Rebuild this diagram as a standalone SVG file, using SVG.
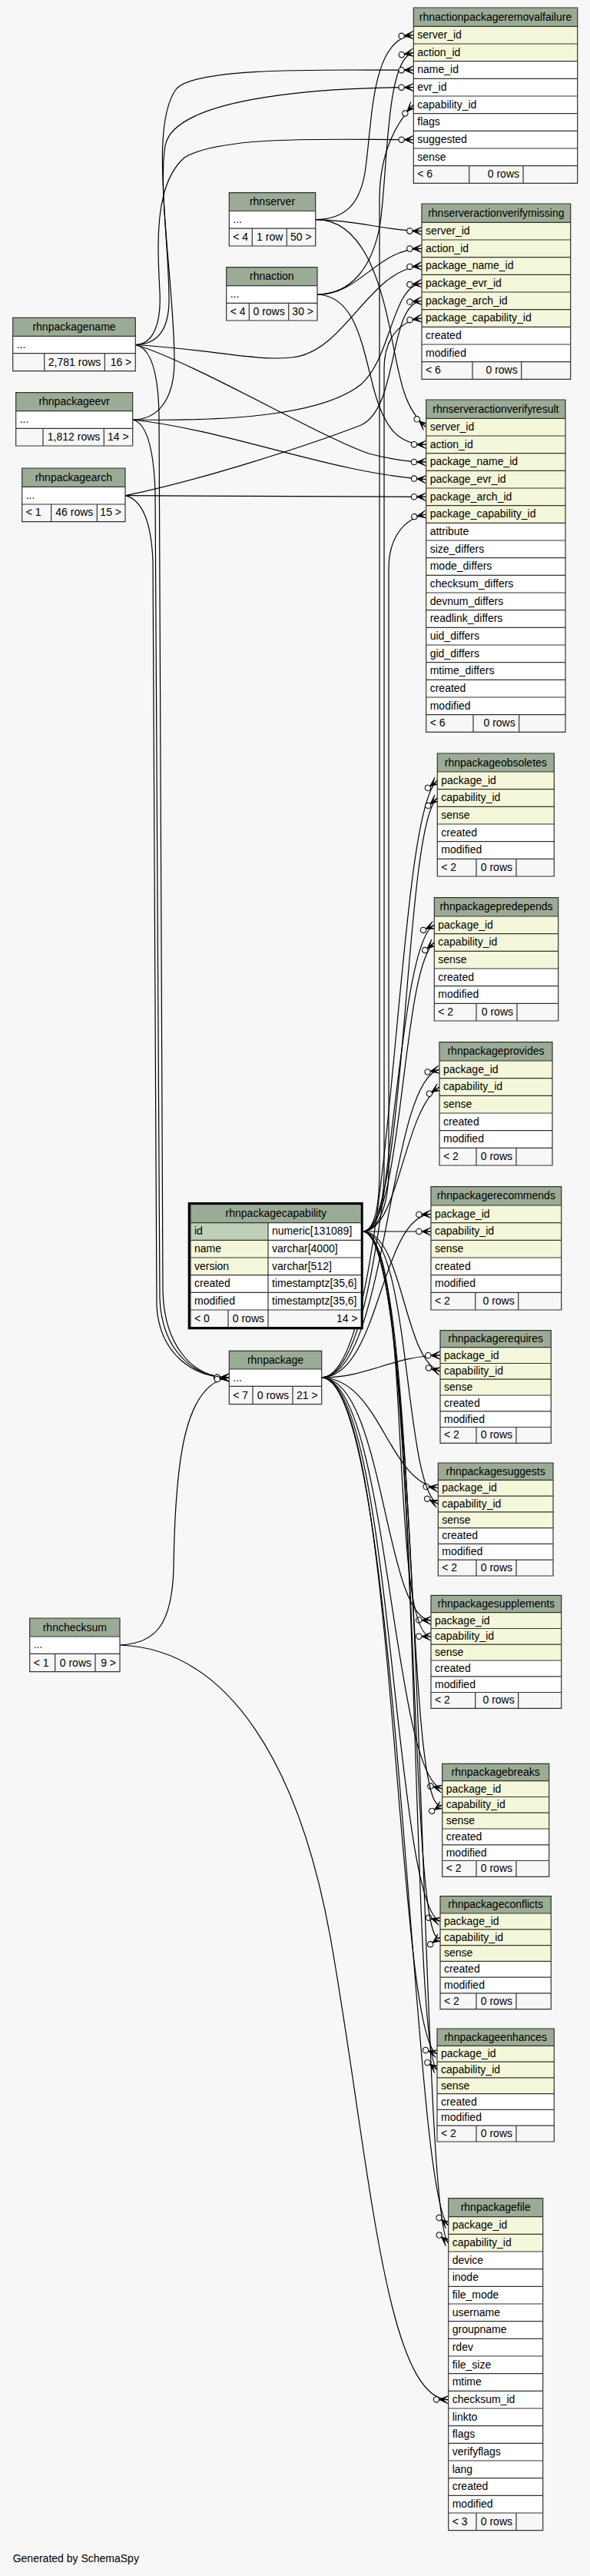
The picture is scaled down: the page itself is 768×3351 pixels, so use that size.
<svg xmlns="http://www.w3.org/2000/svg" width="768" height="3351" viewBox="0 0 768 3351">
<style>
.hd{fill:#9bab96}
.k{fill:#f4f7da}
.w{fill:#ffffff}
.pk{fill:#bed1b8}
.ft{fill:#f7f7f7}
.g{fill:none;stroke:#333;stroke-width:1.2}
text{font-family:"Liberation Sans",Arial,Helvetica,sans-serif;font-size:14px;fill:#000}
.c{text-anchor:middle}
.r{text-anchor:end}
.e{fill:none;stroke:#000;stroke-width:1.2;marker-end:url(#co)}
</style>
<defs>
<marker id="co" viewBox="0 0 20 12" refX="20" refY="6" markerWidth="20" markerHeight="12" markerUnits="userSpaceOnUse" orient="auto" overflow="visible">
<circle cx="4.3" cy="6" r="3.7" fill="#f7f7f7" stroke="#000" stroke-width="1.1"/>
<path d="M8,6H20M8,6L20,0.8M8,6L20,11.2" fill="none" stroke="#000" stroke-width="1"/>
<polygon points="8,6 20,0.8 13.5,6 20,11.2" fill="#000"/>
</marker>
</defs>
<rect x="0" y="0" width="768" height="3351" fill="#f7f7f7"/>

<g id="connectors">
<!-- T1 rhnactionpackageremovalfailure -->
<path class="e" d="M410.7,285.7C450,285 468,265 475,225C485,160 482,50 538.3,45.6"/>
<path class="e" d="M413,383C455,383 485,350 495,290C505,220 502,75 538.3,68.3"/>
<path class="e" d="M176.3,448.5C205,448 220,430 220,390C220,300 195,160 230,115C260,85 450,92 538.3,91"/>
<path class="e" d="M172.7,546C205,546 227,520 227,470C227,380 205,250 215,190C225,130 400,114 538.3,113.6"/>
<path class="e" d="M472.7,1602C488,1600 494,1570 494,1520L494,260C494,200 515,160 538.3,136.3"/>
<path class="e" d="M176.3,448.5C200,448 210,420 208,380C205,320 200,240 240,205C290,175 440,182 538.3,181.6"/>
<!-- T2 rhnserveractionverifymissing -->
<path class="e" d="M410.7,285.7C470,287 500,300 549,300.6"/>
<path class="e" d="M413,383C470,383 490,324 549,323.3"/>
<path class="e" d="M176.3,448.5C280,455 330,470 380,465C450,458 480,350 549,346"/>
<path class="e" d="M172.7,546C300,548 420,540 470,500C510,465 510,372 549,368.7"/>
<path class="e" d="M163,644.7C260,625 400,580 470,553C520,530 505,395 549,391.3"/>
<path class="e" d="M472.7,1602C490,1600 500,1570 500,1520L500,480C500,440 520,418 549,414"/>
<!-- T3 rhnserveractionverifyresult -->
<path class="e" d="M410.7,285.7C470,285 495,360 510,440C520,490 525,530 554.7,555.6"/>
<path class="e" d="M413,383C460,385 470,440 485,500C500,560 520,578 554.7,578.3"/>
<path class="e" d="M176.3,448.5C250,470 420,570 480,590C510,598 530,601 554.7,601"/>
<path class="e" d="M172.7,546C300,560 430,615 554.7,623.7"/>
<path class="e" d="M163,644.7L554.7,646.3"/>
<path class="e" d="M472.7,1602C492,1600 506,1570 506,1520L506,740C506,700 525,675 554.7,669"/>
<!-- rhnpackage parents -->
<path class="e" d="M176.3,448.5C195,452 206,480 207,540L212,1680C214,1750 250,1792 298.3,1792"/>
<path class="e" d="M172.7,546C190,550 200,580 202,640L208,1690C211,1755 250,1792 298.3,1792"/>
<path class="e" d="M163,644.7C185,650 197,680 199,730L204,1700C208,1760 250,1792 298.3,1792"/>
<path class="e" d="M156,2140C205,2138 224,2110 226,2040C228,1900 240,1800 298.3,1792"/>
<!-- rhnpackagefile checksum -->
<path class="e" d="M156,2140C300,2145 390,2300 430,2520C480,2800 500,3120 583.7,3121.7"/>
<!-- rhnpackage children -->
<path class="e" d="M418.7,1792C515,1790 512,1060 569.3,1015.3"/>
<path class="e" d="M418.7,1792C512,1790 508,1230 565.3,1203.3"/>
<path class="e" d="M418.7,1792C505,1790 505,1405 572,1391.3"/>
<path class="e" d="M418.7,1792C495,1790 495,1582 561,1579.3"/>
<path class="e" d="M418.7,1792C480,1792 510,1764 573,1763"/>
<path class="e" d="M418.7,1792C495,1794 505,1928 570.3,1935.7"/>
<path class="e" d="M418.7,1792C500,1794 500,2106 561,2108"/>
<path class="e" d="M418.7,1792C505,1794 510,2312 575.7,2327"/>
<path class="e" d="M418.7,1792C510,1794 512,2480 573,2499.4"/>
<path class="e" d="M418.7,1792C515,1794 515,2655 569,2671.7"/>
<path class="e" d="M418.7,1792C520,1794 535,2855 583.7,2895"/>
<!-- rhnpackagecapability children -->
<path class="e" d="M472.7,1602C530,1600 525,1075 569.3,1038"/>
<path class="e" d="M472.7,1602C525,1600 522,1262 565.3,1226"/>
<path class="e" d="M472.7,1602C520,1600 525,1445 572,1414"/>
<path class="e" d="M472.7,1602L561,1602"/>
<path class="e" d="M472.7,1602C525,1604 525,1770 573,1783.8"/>
<path class="e" d="M472.7,1602C535,1606 525,1935 570.3,1956.5"/>
<path class="e" d="M472.7,1602C538,1606 505,2128 561,2128.9"/>
<path class="e" d="M472.7,1602C545,1608 525,2378 575.7,2347.9"/>
<path class="e" d="M472.7,1602C548,1608 528,2552 573,2520.2"/>
<path class="e" d="M472.7,1602C550,1608 532,2665 569,2692.5"/>
<path class="e" d="M472.7,1602C555,1608 545,2885 583.7,2917.7"/>
</g>

<g id="rhnactionpackageremovalfailure">
<rect class="hd" x="538.3" y="10" width="213.4" height="24.3"/>
<rect class="k" x="538.3" y="34.3" width="213.4" height="45.3"/>
<rect class="w" x="538.3" y="79.6" width="213.4" height="136"/>
<rect class="ft" x="538.3" y="215.6" width="213.4" height="22.7"/>
<path class="g" d="M538.3,10h213.4v228.3h-213.4zM538.3,34.3h213.4M538.3,57h213.4M538.3,79.6h213.4M538.3,102.3h213.4M538.3,125h213.4M538.3,147.6h213.4M538.3,170.3h213.4M538.3,193h213.4M538.3,215.6h213.4M610.7,215.6V238.3M681,215.6V238.3"/>
<text class="c" x="645" y="26.8">rhnactionpackageremovalfailure</text>
<text x="543.3" y="49.9">server_id</text>
<text x="543.3" y="72.6">action_id</text>
<text x="543.3" y="95.2">name_id</text>
<text x="543.3" y="117.9">evr_id</text>
<text x="543.3" y="140.6">capability_id</text>
<text x="543.3" y="163.2">flags</text>
<text x="543.3" y="185.9">suggested</text>
<text x="543.3" y="208.6">sense</text>
<text x="543.3" y="231.2">&lt; 6</text>
<text class="r" x="676" y="231.2">0 rows</text>
</g>

<g id="rhnserveractionverifymissing">
<rect class="hd" x="549" y="265" width="193.7" height="24.3"/>
<rect class="k" x="549" y="289.3" width="193.7" height="136"/>
<rect class="w" x="549" y="425.3" width="193.7" height="45.3"/>
<rect class="ft" x="549" y="470.6" width="193.7" height="22.7"/>
<path class="g" d="M549,265h193.7v228.3h-193.7zM549,289.3h193.7M549,312h193.7M549,334.6h193.7M549,357.3h193.7M549,380h193.7M549,402.6h193.7M549,425.3h193.7M549,448h193.7M549,470.6h193.7M615,470.6V493.3M678.7,470.6V493.3"/>
<text class="c" x="645.85" y="281.7">rhnserveractionverifymissing</text>
<text x="554" y="304.9">server_id</text>
<text x="554" y="327.6">action_id</text>
<text x="554" y="350.2">package_name_id</text>
<text x="554" y="372.9">package_evr_id</text>
<text x="554" y="395.6">package_arch_id</text>
<text x="554" y="418.2">package_capability_id</text>
<text x="554" y="440.9">created</text>
<text x="554" y="463.6">modified</text>
<text x="554" y="486.2">&lt; 6</text>
<text class="r" x="673.7" y="486.2">0 rows</text>
</g>

<g id="rhnserveractionverifyresult">
<rect class="hd" x="554.7" y="520" width="181.3" height="24.3"/>
<rect class="k" x="554.7" y="544.3" width="181.3" height="136"/>
<rect class="w" x="554.7" y="680.3" width="181.3" height="249.3"/>
<rect class="ft" x="554.7" y="929.6" width="181.3" height="22.7"/>
<path class="g" d="M554.7,520h181.3v432.3h-181.3zM554.7,544.3h181.3M554.7,567h181.3M554.7,589.6h181.3M554.7,612.3h181.3M554.7,635h181.3M554.7,657.6h181.3M554.7,680.3h181.3M554.7,703h181.3M554.7,725.6h181.3M554.7,748.3h181.3M554.7,771h181.3M554.7,793.6h181.3M554.7,816.3h181.3M554.7,839h181.3M554.7,861.6h181.3M554.7,884.3h181.3M554.7,907h181.3M554.7,929.6h181.3M616,929.6V952.3M675.7,929.6V952.3"/>
<text class="c" x="645.35" y="536.7">rhnserveractionverifyresult</text>
<text x="559.7" y="559.9">server_id</text>
<text x="559.7" y="582.6">action_id</text>
<text x="559.7" y="605.2">package_name_id</text>
<text x="559.7" y="627.9">package_evr_id</text>
<text x="559.7" y="650.6">package_arch_id</text>
<text x="559.7" y="673.2">package_capability_id</text>
<text x="559.7" y="695.9">attribute</text>
<text x="559.7" y="718.6">size_differs</text>
<text x="559.7" y="741.2">mode_differs</text>
<text x="559.7" y="763.9">checksum_differs</text>
<text x="559.7" y="786.6">devnum_differs</text>
<text x="559.7" y="809.2">readlink_differs</text>
<text x="559.7" y="831.9">uid_differs</text>
<text x="559.7" y="854.6">gid_differs</text>
<text x="559.7" y="877.2">mtime_differs</text>
<text x="559.7" y="899.9">created</text>
<text x="559.7" y="922.6">modified</text>
<text x="559.7" y="945.2">&lt; 6</text>
<text class="r" x="670.7" y="945.2">0 rows</text>
</g>

<g id="rhnpackageobsoletes">
<rect class="hd" x="569.3" y="980" width="152" height="24"/>
<rect class="k" x="569.3" y="1004" width="152" height="68"/>
<rect class="w" x="569.3" y="1072" width="152" height="45.3"/>
<rect class="ft" x="569.3" y="1117.3" width="152" height="22.7"/>
<path class="g" d="M569.3,980h152v160h-152zM569.3,1004h152M569.3,1026.7h152M569.3,1049.3h152M569.3,1072h152M569.3,1094.7h152M569.3,1117.3h152M620,1117.3V1140M672,1117.3V1140"/>
<text class="c" x="645.3" y="996.7">rhnpackageobsoletes</text>
<text x="574.3" y="1019.6">package_id</text>
<text x="574.3" y="1042.3">capability_id</text>
<text x="574.3" y="1064.9">sense</text>
<text x="574.3" y="1087.6">created</text>
<text x="574.3" y="1110.3">modified</text>
<text x="574.3" y="1132.9">&lt; 2</text>
<text class="r" x="667" y="1132.9">0 rows</text>
</g>

<g id="rhnpackagepredepends">
<rect class="hd" x="565.3" y="1167.7" width="161.4" height="24.3"/>
<rect class="k" x="565.3" y="1192" width="161.4" height="68"/>
<rect class="w" x="565.3" y="1260" width="161.4" height="45.3"/>
<rect class="ft" x="565.3" y="1305.3" width="161.4" height="22.7"/>
<path class="g" d="M565.3,1167.7h161.4v160.3h-161.4zM565.3,1192h161.4M565.3,1214.7h161.4M565.3,1237.3h161.4M565.3,1260h161.4M565.3,1282.7h161.4M565.3,1305.3h161.4M620,1305.3V1328M673,1305.3V1328"/>
<text class="c" x="646" y="1184.4">rhnpackagepredepends</text>
<text x="570.3" y="1207.6">package_id</text>
<text x="570.3" y="1230.3">capability_id</text>
<text x="570.3" y="1252.9">sense</text>
<text x="570.3" y="1275.6">created</text>
<text x="570.3" y="1298.3">modified</text>
<text x="570.3" y="1320.9">&lt; 2</text>
<text class="r" x="668" y="1320.9">0 rows</text>
</g>

<g id="rhnpackageprovides">
<rect class="hd" x="572" y="1355.7" width="147" height="24.3"/>
<rect class="k" x="572" y="1380" width="147" height="68"/>
<rect class="w" x="572" y="1448" width="147" height="45.3"/>
<rect class="ft" x="572" y="1493.3" width="147" height="22.7"/>
<path class="g" d="M572,1355.7h147v160.3h-147zM572,1380h147M572,1402.7h147M572,1425.3h147M572,1448h147M572,1470.7h147M572,1493.3h147M620,1493.3V1516M672,1493.3V1516"/>
<text class="c" x="645.5" y="1372.4">rhnpackageprovides</text>
<text x="577" y="1395.6">package_id</text>
<text x="577" y="1418.3">capability_id</text>
<text x="577" y="1440.9">sense</text>
<text x="577" y="1463.6">created</text>
<text x="577" y="1486.3">modified</text>
<text x="577" y="1508.9">&lt; 2</text>
<text class="r" x="667" y="1508.9">0 rows</text>
</g>

<g id="rhnpackagerecommends">
<rect class="hd" x="561" y="1543.7" width="169.7" height="24.3"/>
<rect class="k" x="561" y="1568" width="169.7" height="68"/>
<rect class="w" x="561" y="1636" width="169.7" height="45.3"/>
<rect class="ft" x="561" y="1681.3" width="169.7" height="22.7"/>
<path class="g" d="M561,1543.7h169.7v160.3h-169.7zM561,1568h169.7M561,1590.7h169.7M561,1613.3h169.7M561,1636h169.7M561,1658.7h169.7M561,1681.3h169.7M618.7,1681.3V1704M674.7,1681.3V1704"/>
<text class="c" x="645.85" y="1560.4">rhnpackagerecommends</text>
<text x="566" y="1583.6">package_id</text>
<text x="566" y="1606.3">capability_id</text>
<text x="566" y="1628.9">sense</text>
<text x="566" y="1651.6">created</text>
<text x="566" y="1674.3">modified</text>
<text x="566" y="1696.9">&lt; 2</text>
<text class="r" x="669.7" y="1696.9">0 rows</text>
</g>

<g id="rhnpackagerequires">
<rect class="hd" x="573" y="1730.7" width="144.3" height="22"/>
<rect class="k" x="573" y="1752.7" width="144.3" height="62.3"/>
<rect class="w" x="573" y="1815" width="144.3" height="41.5"/>
<rect class="ft" x="573" y="1856.5" width="144.3" height="20.8"/>
<path class="g" d="M573,1730.7h144.3v146.6h-144.3zM573,1752.7h144.3M573,1773.5h144.3M573,1794.2h144.3M573,1815h144.3M573,1835.8h144.3M573,1856.5h144.3M620,1856.5V1877.3M672,1856.5V1877.3"/>
<text class="c" x="645.15" y="1746.2">rhnpackagerequires</text>
<text x="578" y="1767.5">package_id</text>
<text x="578" y="1788.3">capability_id</text>
<text x="578" y="1809">sense</text>
<text x="578" y="1829.8">created</text>
<text x="578" y="1850.6">modified</text>
<text x="578" y="1871.3">&lt; 2</text>
<text class="r" x="667" y="1871.3">0 rows</text>
</g>

<g id="rhnpackagesuggests">
<rect class="hd" x="570.3" y="1903" width="149.7" height="22.3"/>
<rect class="k" x="570.3" y="1925.3" width="149.7" height="62.3"/>
<rect class="w" x="570.3" y="1987.6" width="149.7" height="41.6"/>
<rect class="ft" x="570.3" y="2029.2" width="149.7" height="20.8"/>
<path class="g" d="M570.3,1903h149.7v147h-149.7zM570.3,1925.3h149.7M570.3,1946.1h149.7M570.3,1966.9h149.7M570.3,1987.6h149.7M570.3,2008.4h149.7M570.3,2029.2h149.7M620,2029.2V2050M672,2029.2V2050"/>
<text class="c" x="645.15" y="1918.6">rhnpackagesuggests</text>
<text x="575.3" y="1940.1">package_id</text>
<text x="575.3" y="1960.9">capability_id</text>
<text x="575.3" y="1981.7">sense</text>
<text x="575.3" y="2002.4">created</text>
<text x="575.3" y="2023.2">modified</text>
<text x="575.3" y="2044">&lt; 2</text>
<text class="r" x="667" y="2044">0 rows</text>
</g>

<g id="rhnpackagesupplements">
<rect class="hd" x="561" y="2075.3" width="169.7" height="22.4"/>
<rect class="k" x="561" y="2097.7" width="169.7" height="62.3"/>
<rect class="w" x="561" y="2160" width="169.7" height="41.5"/>
<rect class="ft" x="561" y="2201.5" width="169.7" height="20.8"/>
<path class="g" d="M561,2075.3h169.7v147h-169.7zM561,2097.7h169.7M561,2118.5h169.7M561,2139.2h169.7M561,2160h169.7M561,2180.8h169.7M561,2201.5h169.7M618.7,2201.5V2222.3M674.7,2201.5V2222.3"/>
<text class="c" x="645.85" y="2091">rhnpackagesupplements</text>
<text x="566" y="2112.5">package_id</text>
<text x="566" y="2133.3">capability_id</text>
<text x="566" y="2154">sense</text>
<text x="566" y="2174.8">created</text>
<text x="566" y="2195.6">modified</text>
<text x="566" y="2216.3">&lt; 2</text>
<text class="r" x="669.7" y="2216.3">0 rows</text>
</g>

<g id="rhnpackagebreaks">
<rect class="hd" x="575.7" y="2294.3" width="139" height="22.4"/>
<rect class="k" x="575.7" y="2316.7" width="139" height="62.3"/>
<rect class="w" x="575.7" y="2379" width="139" height="41.5"/>
<rect class="ft" x="575.7" y="2420.5" width="139" height="20.8"/>
<path class="g" d="M575.7,2294.3h139v147h-139zM575.7,2316.7h139M575.7,2337.5h139M575.7,2358.2h139M575.7,2379h139M575.7,2399.8h139M575.7,2420.5h139M620,2420.5V2441.3M672,2420.5V2441.3"/>
<text class="c" x="645.2" y="2310">rhnpackagebreaks</text>
<text x="580.7" y="2331.5">package_id</text>
<text x="580.7" y="2352.3">capability_id</text>
<text x="580.7" y="2373">sense</text>
<text x="580.7" y="2393.8">created</text>
<text x="580.7" y="2414.6">modified</text>
<text x="580.7" y="2435.3">&lt; 2</text>
<text class="r" x="667" y="2435.3">0 rows</text>
</g>

<g id="rhnpackageconflicts">
<rect class="hd" x="573" y="2466.7" width="144.3" height="22.3"/>
<rect class="k" x="573" y="2489" width="144.3" height="62.4"/>
<rect class="w" x="573" y="2551.4" width="144.3" height="41.5"/>
<rect class="ft" x="573" y="2592.9" width="144.3" height="20.8"/>
<path class="g" d="M573,2466.7h144.3v147h-144.3zM573,2489h144.3M573,2509.8h144.3M573,2530.6h144.3M573,2551.4h144.3M573,2572.1h144.3M573,2592.9h144.3M620,2592.9V2613.7M672,2592.9V2613.7"/>
<text class="c" x="645.15" y="2482.3">rhnpackageconflicts</text>
<text x="578" y="2503.8">package_id</text>
<text x="578" y="2524.6">capability_id</text>
<text x="578" y="2545.4">sense</text>
<text x="578" y="2566.2">created</text>
<text x="578" y="2586.9">modified</text>
<text x="578" y="2607.7">&lt; 2</text>
<text class="r" x="667" y="2607.7">0 rows</text>
</g>

<g id="rhnpackageenhances">
<rect class="hd" x="569" y="2639" width="152.3" height="22.3"/>
<rect class="k" x="569" y="2661.3" width="152.3" height="62.4"/>
<rect class="w" x="569" y="2723.7" width="152.3" height="41.5"/>
<rect class="ft" x="569" y="2765.2" width="152.3" height="20.8"/>
<path class="g" d="M569,2639h152.3v147h-152.3zM569,2661.3h152.3M569,2682.1h152.3M569,2702.9h152.3M569,2723.7h152.3M569,2744.4h152.3M569,2765.2h152.3M620,2765.2V2786M672,2765.2V2786"/>
<text class="c" x="645.15" y="2654.6">rhnpackageenhances</text>
<text x="574" y="2676.1">package_id</text>
<text x="574" y="2696.9">capability_id</text>
<text x="574" y="2717.7">sense</text>
<text x="574" y="2738.5">created</text>
<text x="574" y="2759.2">modified</text>
<text x="574" y="2780">&lt; 2</text>
<text class="r" x="667" y="2780">0 rows</text>
</g>

<g id="rhnpackagefile">
<rect class="hd" x="583.7" y="2859.7" width="123" height="24"/>
<rect class="k" x="583.7" y="2883.7" width="123" height="45.3"/>
<rect class="w" x="583.7" y="2929" width="123" height="340"/>
<rect class="ft" x="583.7" y="3269" width="123" height="22.7"/>
<path class="g" d="M583.7,2859.7h123v432h-123zM583.7,2883.7h123M583.7,2906.4h123M583.7,2929h123M583.7,2951.7h123M583.7,2974.4h123M583.7,2997h123M583.7,3019.7h123M583.7,3042.4h123M583.7,3065h123M583.7,3087.7h123M583.7,3110.4h123M583.7,3133h123M583.7,3155.7h123M583.7,3178.4h123M583.7,3201h123M583.7,3223.7h123M583.7,3246.4h123M583.7,3269h123M620,3269V3291.7M672,3269V3291.7"/>
<text class="c" x="645.2" y="2876.4">rhnpackagefile</text>
<text x="588.7" y="2899.3">package_id</text>
<text x="588.7" y="2922">capability_id</text>
<text x="588.7" y="2944.6">device</text>
<text x="588.7" y="2967.3">inode</text>
<text x="588.7" y="2990">file_mode</text>
<text x="588.7" y="3012.6">username</text>
<text x="588.7" y="3035.3">groupname</text>
<text x="588.7" y="3058">rdev</text>
<text x="588.7" y="3080.6">file_size</text>
<text x="588.7" y="3103.3">mtime</text>
<text x="588.7" y="3126">checksum_id</text>
<text x="588.7" y="3148.6">linkto</text>
<text x="588.7" y="3171.3">flags</text>
<text x="588.7" y="3194">verifyflags</text>
<text x="588.7" y="3216.6">lang</text>
<text x="588.7" y="3239.3">created</text>
<text x="588.7" y="3262">modified</text>
<text x="588.7" y="3284.6">&lt; 3</text>
<text class="r" x="667" y="3284.6">0 rows</text>
</g>

<g id="rhnserver">
<rect class="hd" x="298.3" y="250.7" width="112.4" height="23.8"/>
<rect class="w" x="298.3" y="274.5" width="112.4" height="22.7"/>
<rect class="ft" x="298.3" y="297.2" width="112.4" height="22.8"/>
<path class="g" d="M298.3,250.7h112.4v69.3h-112.4zM298.3,274.5h112.4M298.3,297.2h112.4M328.3,297.2V320M373.3,297.2V320"/>
<text class="c" x="354.5" y="267.3">rhnserver</text>
<text x="303.3" y="290">...</text>
<text x="303.3" y="313.3">&lt; 4</text>
<text class="r" x="368.3" y="313.3">1 row</text>
<text class="r" x="405.7" y="313.3">50 &gt;</text>
</g>

<g id="rhnaction">
<rect class="hd" x="294.7" y="347.7" width="118.3" height="24"/>
<rect class="w" x="294.7" y="371.7" width="118.3" height="22.6"/>
<rect class="ft" x="294.7" y="394.3" width="118.3" height="22.7"/>
<path class="g" d="M294.7,347.7h118.3v69.3h-118.3zM294.7,371.7h118.3M294.7,394.3h118.3M324.3,394.3V417M375.7,394.3V417"/>
<text class="c" x="353.85" y="364.4">rhnaction</text>
<text x="299.7" y="387">...</text>
<text x="299.7" y="410">&lt; 4</text>
<text class="r" x="370.7" y="410">0 rows</text>
<text class="r" x="408" y="410">30 &gt;</text>
</g>

<g id="rhnpackagename">
<rect class="hd" x="16.7" y="413.3" width="159.6" height="24"/>
<rect class="w" x="16.7" y="437.3" width="159.6" height="22.4"/>
<rect class="ft" x="16.7" y="459.7" width="159.6" height="23"/>
<path class="g" d="M16.7,413.3h159.6v69.4h-159.6zM16.7,437.3h159.6M16.7,459.7h159.6M57.7,459.7V482.7M136.3,459.7V482.7"/>
<text class="c" x="96.5" y="430">rhnpackagename</text>
<text x="21.7" y="452.5">...</text>
<text class="r" x="131.3" y="475.5">2,781 rows</text>
<text class="r" x="171.3" y="475.5">16 &gt;</text>
</g>

<g id="rhnpackageevr">
<rect class="hd" x="20.7" y="510.7" width="152" height="24"/>
<rect class="w" x="20.7" y="534.7" width="152" height="22.6"/>
<rect class="ft" x="20.7" y="557.3" width="152" height="22.7"/>
<path class="g" d="M20.7,510.7h152v69.3h-152zM20.7,534.7h152M20.7,557.3h152M56,557.3V580M135.3,557.3V580"/>
<text class="c" x="96.7" y="527.4">rhnpackageevr</text>
<text x="25.7" y="550">...</text>
<text class="r" x="130.3" y="572.8">1,812 rows</text>
<text class="r" x="167.7" y="572.8">14 &gt;</text>
</g>

<g id="rhnpackagearch">
<rect class="hd" x="28.7" y="609" width="134.3" height="24.3"/>
<rect class="w" x="28.7" y="633.3" width="134.3" height="22.7"/>
<rect class="ft" x="28.7" y="656" width="134.3" height="22.7"/>
<path class="g" d="M28.7,609h134.3v69.7h-134.3zM28.7,633.3h134.3M28.7,656h134.3M66.7,656V678.7M126.3,656V678.7"/>
<text class="c" x="95.85" y="625.7">rhnpackagearch</text>
<text x="33.7" y="648.6">...</text>
<text x="33.7" y="671.4">&lt; 1</text>
<text class="r" x="121.3" y="671.4">46 rows</text>
<text class="r" x="158" y="671.4">15 &gt;</text>
</g>

<g id="rhnpackagecapability">
<rect class="hd" x="248" y="1566.7" width="222.7" height="24"/>
<rect class="pk" x="248" y="1590.7" width="101" height="22.7"/>
<rect class="k" x="248" y="1613.4" width="101" height="45.3"/>
<rect class="w" x="349" y="1590.7" width="121.7" height="68"/>
<rect class="w" x="248" y="1658.7" width="222.7" height="45.3"/>
<rect class="ft" x="248" y="1704" width="222.7" height="22.7"/>
<path class="g" d="M248,1566.7h222.7v160h-222.7zM248,1590.7h222.7M248,1613.4h222.7M248,1636h222.7M248,1658.7h222.7M248,1681.4h222.7M248,1704h222.7M349,1590.7V1726.7M297,1704V1726.7"/>
<rect x="246.2" y="1565.5" width="225" height="162.3" fill="none" stroke="#000" stroke-width="3"/>
<text class="c" x="359.35" y="1583.4">rhnpackagecapability</text>
<text x="253" y="1606.3">id</text>
<text x="354" y="1606.3">numeric[131089]</text>
<text x="253" y="1629">name</text>
<text x="354" y="1629">varchar[4000]</text>
<text x="253" y="1651.6">version</text>
<text x="354" y="1651.6">varchar[512]</text>
<text x="253" y="1674.3">created</text>
<text x="354" y="1674.3">timestamptz[35,6]</text>
<text x="253" y="1697">modified</text>
<text x="354" y="1697">timestamptz[35,6]</text>
<text x="253" y="1719.6">&lt; 0</text>
<text class="r" x="344" y="1719.6">0 rows</text>
<text class="r" x="465.7" y="1719.6">14 &gt;</text>
</g>

<g id="rhnpackage">
<rect class="hd" x="298.3" y="1757.3" width="120.4" height="23.7"/>
<rect class="w" x="298.3" y="1781" width="120.4" height="22.3"/>
<rect class="ft" x="298.3" y="1803.3" width="120.4" height="23.4"/>
<path class="g" d="M298.3,1757.3h120.4v69.4h-120.4zM298.3,1781h120.4M298.3,1803.3h120.4M329,1803.3V1826.7M381,1803.3V1826.7"/>
<text class="c" x="358.5" y="1774">rhnpackage</text>
<text x="303.3" y="1796.5">...</text>
<text x="303.3" y="1819.5">&lt; 7</text>
<text class="r" x="376" y="1819.5">0 rows</text>
<text class="r" x="413.7" y="1819.5">21 &gt;</text>
</g>

<g id="rhnchecksum">
<rect class="hd" x="38.7" y="2105" width="117.3" height="24"/>
<rect class="w" x="38.7" y="2129" width="117.3" height="22.3"/>
<rect class="ft" x="38.7" y="2151.3" width="117.3" height="23.4"/>
<path class="g" d="M38.7,2105h117.3v69.7h-117.3zM38.7,2129h117.3M38.7,2151.3h117.3M71.7,2151.3V2174.7M124,2151.3V2174.7"/>
<text class="c" x="97.35" y="2121.7">rhnchecksum</text>
<text x="43.7" y="2144.3">...</text>
<text x="43.7" y="2167.5">&lt; 1</text>
<text class="r" x="119" y="2167.5">0 rows</text>
<text class="r" x="151" y="2167.5">9 &gt;</text>
</g>

<text x="16.7" y="3333">Generated by SchemaSpy</text>
</svg>
